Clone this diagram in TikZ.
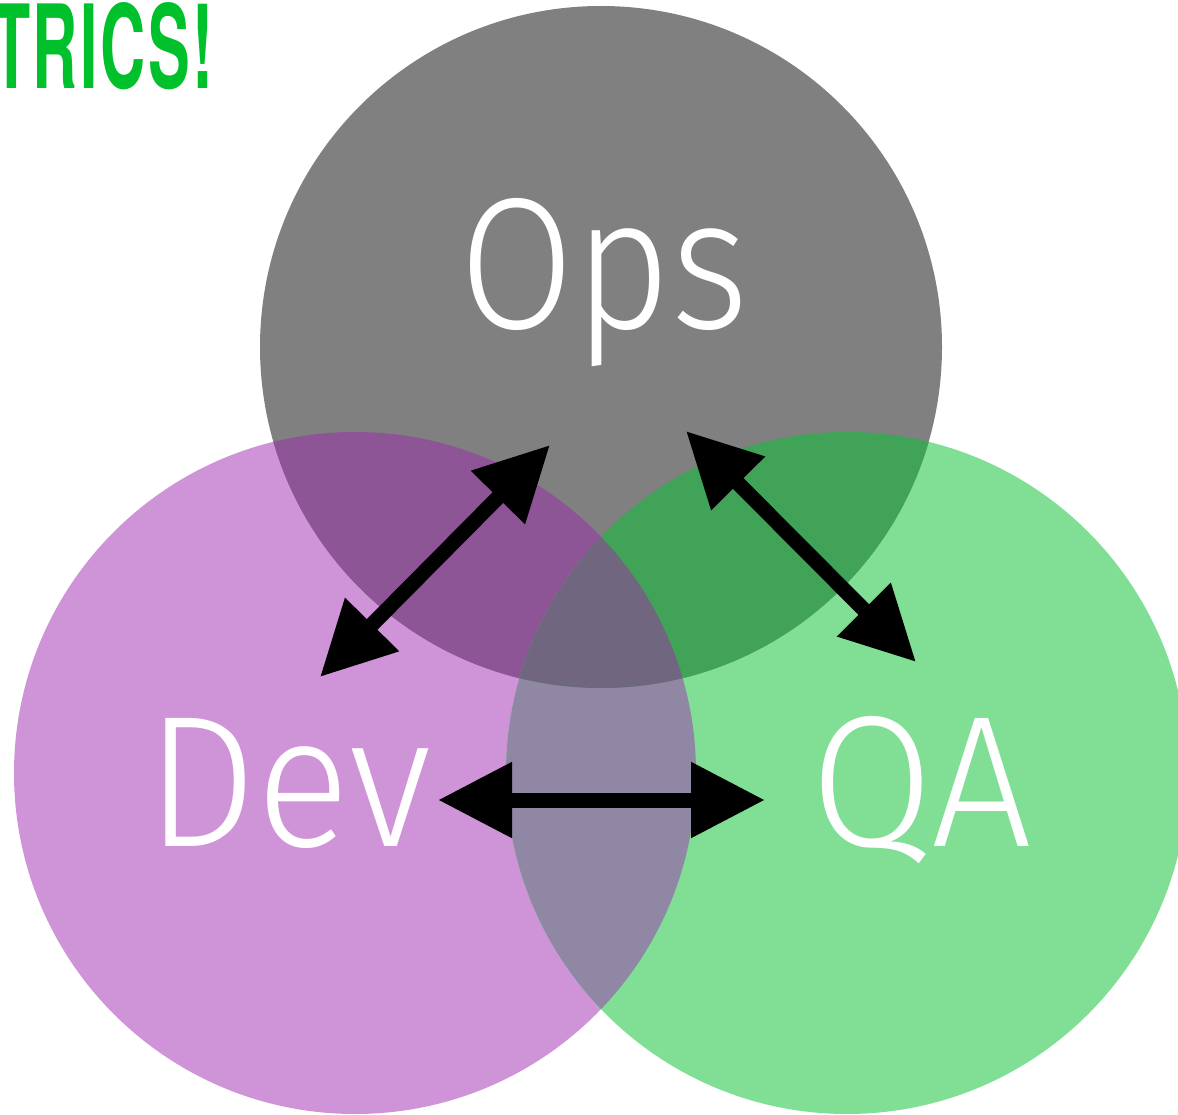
\documentclass[tikz,border=0pt]{standalone}
\usepackage{fontspec}
\usetikzlibrary{arrows.meta}
\newfontfamily\lblfont{Fira Sans Light}
\newfontfamily\headfont{TeX Gyre Heros}
\definecolor{opsgray}{HTML}{808080}
\definecolor{devpurple}{HTML}{CF94D8}
\definecolor{qagreen}{HTML}{80DF94}
\definecolor{devops}{HTML}{8E5596}
\definecolor{opsqa}{HTML}{40A357}
\definecolor{devqa}{HTML}{9087A4}
\definecolor{allthree}{HTML}{716680}
\definecolor{titlegreen}{HTML}{00C12B}
\tikzset{
  lbl/.style={text=white, inner sep=0pt, font=\lblfont},
  twoway/.style={line width=15pt, {Triangle[length=74pt,width=72pt]}-{Triangle[length=74pt,width=72pt]}}
}
\begin{document}
\begin{tikzpicture}[x=1pt,y=-1pt]
\useasboundingbox (0,0) rectangle (1178,1115);
\clip (0,0) rectangle (1178,1115);
% circles
\coordinate (opsc) at (601,347);
\coordinate (devc) at (355,773);
\coordinate (qac) at (847,773);
\fill[devpurple] (devc) circle[radius=341];
\fill[qagreen] (qac) circle[radius=341];
\fill[opsgray] (opsc) circle[radius=341];
\begin{scope}
  \clip (devc) circle[radius=341];
  \fill[devops] (opsc) circle[radius=341];
  \fill[devqa] (qac) circle[radius=341];
\end{scope}
\begin{scope}
  \clip (opsc) circle[radius=341];
  \fill[opsqa] (qac) circle[radius=341];
\end{scope}
\begin{scope}
  \clip (devc) circle[radius=341];
  \clip (opsc) circle[radius=341];
  \fill[allthree] (qac) circle[radius=341];
\end{scope}
% title
\node[anchor=north west, inner sep=0pt, text=titlegreen] (title) at (-8,2)
  {\resizebox{221pt}{86pt}{\headfont\bfseries T\kern0.04em R\kern0.04em I\kern0.04em C\kern0.04em S\kern0.04em !}};
% labels
\node[lbl, anchor=base west] (ops) at (459,328) {\resizebox{289pt}{130pt}{Ops}};
\node[lbl, anchor=base west] (dev) at (146,846) {\resizebox{285pt}{128pt}{Dev}};
\node[lbl, anchor=base west] (qa) at (810,846) {\resizebox{222pt}{130pt}{QA}};
% arrow ends
\coordinate (od1) at (320,677);
\coordinate (od2) at (550,445);
\coordinate (oq1) at (686,431);
\coordinate (oq2) at (916,662);
\coordinate (dq1) at (438,800);
\coordinate (dq2) at (765,800);
\draw[twoway] (od1) -- (od2);
\draw[twoway] (oq1) -- (oq2);
\draw[twoway] (dq1) -- (dq2);
\end{tikzpicture}
\end{document}
